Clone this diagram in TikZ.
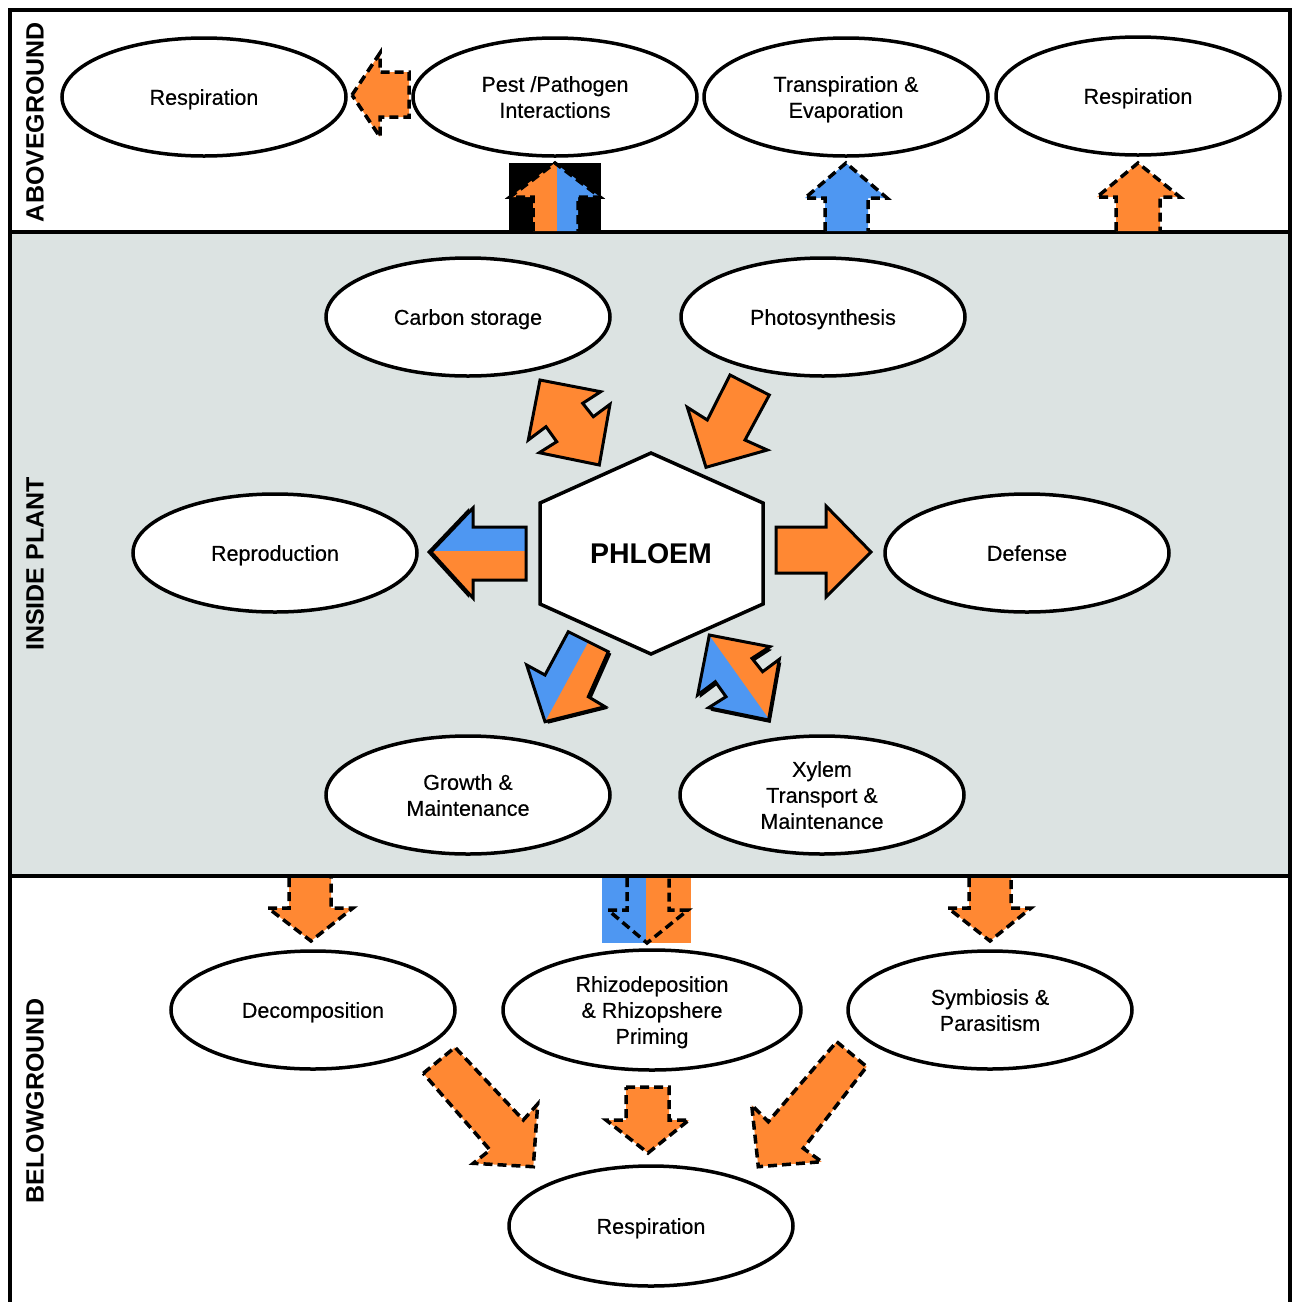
\documentclass[tikz,border=0pt]{standalone}
\usepackage{fontspec}
\setmainfont{Liberation Sans}
\usetikzlibrary{shapes.geometric}
\definecolor{org}{HTML}{FF8833}
\definecolor{blu}{HTML}{4E97F2}
\definecolor{bgray}{HTML}{DCE3E2}
\begin{document}
\begin{tikzpicture}[x=1pt,y=-1pt,
  ell/.style={draw, line width=3.5pt, ellipse, fill=white, minimum width=284pt, minimum height=118pt, inner sep=0pt, align=center, text depth=0pt, font=\fontsize{21.5}{26}\selectfont\addfontfeature{FakeBold=0.4}},
  darr/.style={draw=black, line width=3.5pt, dash pattern=on 9pt off 5pt, line join=miter},
  sarr/.style={draw=black, line width=3pt, line join=miter},
  side/.style={rotate=90, font=\bfseries\fontsize{25}{28}\selectfont},
  frameline/.style={line width=3.5pt}]
\useasboundingbox (0,0) rectangle (1298,1302);
% zones
\fill[bgray] (10,232) rectangle (1290,876);
\draw[frameline] (10,1302) -- (10,10) -- (1290,10) -- (1290,1302);
\draw[frameline] (10,232) -- (1290,232);
\draw[frameline] (10,876) -- (1290,876);
\node[side] (lab1) at (35,122) {ABOVEGROUND};
\node[side] (lab2) at (35,564) {INSIDE PLANT};
\node[side] (lab3) at (35,1101) {BELOWGROUND};

% ellipses
\node[ell] (resp1) at (204,97) {Respiration};
\node[ell] (pest) at (555,97) {Pest /Pathogen\\Interactions};
\node[ell] (trans) at (846,97) {Transpiration \&\\Evaporation};
\node[ell] (resp2) at (1138,96) {Respiration};
\node[ell] (carb) at (468,317) {Carbon storage};
\node[ell] (photo) at (823,317) {Photosynthesis};
\node[ell] (repro) at (275,553) {Reproduction};
\node[ell] (def) at (1027,553) {Defense};
\node[ell] (grow) at (468,795) {Growth \&\\Maintenance};
\node[ell] (xyl) at (822,795) {Xylem\\Transport \&\\Maintenance};
\node[ell] (decomp) at (313,1010) {Decomposition};
\node[ell, minimum width=298pt, minimum height=120pt] (rhizo) at (652,1010) {Rhizodeposition\\\& Rhizopshere\\Priming};
\node[ell] (symb) at (990,1010) {Symbiosis \&\\Parasitism};
\node[ell, minimum height=120pt] (resp3) at (651,1226) {Respiration};

% phloem hexagon
\draw[line width=3.5pt, fill=white, line join=miter] (651,453) -- (763,503) -- (763,604) -- (651,654) -- (540,604) -- (540,503) -- cycle;
\node[font=\bfseries\fontsize{28.5}{32}\selectfont] (phl) at (651,554) {PHLOEM};

% aboveground arrows
\fill[org] (352,95) -- (380,53) -- (380,72) -- (409,72) -- (409,117) -- (380,117) -- (380,137) -- cycle;
\draw[darr] (352,95) -- (380,53) -- (380,72) -- (409,72) -- (409,117) -- (380,117) -- (380,137) -- cycle;

\fill[black] (509,163) rectangle (601,231);
\begin{scope}
\clip (555,163) -- (600,197) -- (578,197) -- (578,231) -- (533,231) -- (533,197) -- (510,197) -- cycle;
\fill[org] (500,150) rectangle (557,235);
\fill[blu] (557,150) rectangle (610,235);
\end{scope}
\draw[darr] (533,231) -- (533,197) -- (510,197) -- (555,163) -- (600,197) -- (578,197) -- (578,231);

\fill[blu] (825,231) -- (825,198) -- (805,198) -- (846,163) -- (887,198) -- (868,198) -- (868,231) -- cycle;
\draw[darr] (825,231) -- (825,198) -- (805,198) -- (846,163) -- (887,198) -- (868,198) -- (868,231);

\fill[org] (1116,231) -- (1116,197) -- (1097,197) -- (1138,163) -- (1180,197) -- (1160,197) -- (1160,231) -- cycle;
\draw[darr] (1116,231) -- (1116,197) -- (1097,197) -- (1138,163) -- (1180,197) -- (1160,197) -- (1160,231);

% inside plant arrows
\draw[sarr, fill=org] (540,380) -- (600.7,391.7) -- (582.7,403.3) -- (593.3,416.7) -- (610,404.3) -- (599.3,465) -- (539.3,452.7) -- (556.7,441.7) -- (546,426.7) -- (528.3,440) -- cycle;

\draw[sarr, fill=org] (730,375) -- (769.3,395) -- (745,440) -- (767.3,450) -- (706,467.3) -- (687.3,407.3) -- (707.3,420) -- cycle;

\fill[black] (427,552) -- (469,508) -- (469,527) -- (522,527) -- (522,580) -- (469,580) -- (469,598) -- cycle;
\begin{scope}
\clip (431,552) -- (473,508) -- (473,527) -- (526,527) -- (526,580) -- (473,580) -- (473,598) -- cycle;
\fill[blu] (420,500) rectangle (530,551);
\fill[org] (420,551) rectangle (530,605);
\end{scope}
\draw[sarr] (431,552) -- (473,508) -- (473,527) -- (526,527) -- (526,580) -- (473,580) -- (473,598) -- cycle;

\draw[sarr, fill=org] (871,552) -- (826,506) -- (826,527) -- (776,527) -- (776,573) -- (826,573) -- (826,597) -- cycle;

\fill[black] (571.3,633.7) -- (611.3,653.7) -- (591.3,698.7) -- (608,708.7) -- (548,723.7) -- (529.7,667) -- (548,677) -- cycle;
\begin{scope}
\clip (568.3,631.7) -- (608.3,651.7) -- (588.3,696.7) -- (605,706.7) -- (545,721.7) -- (526.7,665) -- (545,675) -- cycle;
\fill[org] (500,600) rectangle (630,740);
\fill[blu] (610,601.7) -- (523.4,761.7) -- (460,761.7) -- (460,601.7) -- cycle;
\end{scope}
\draw[sarr] (568.3,631.7) -- (608.3,651.7) -- (588.3,696.7) -- (605,706.7) -- (545,721.7) -- (526.7,665) -- (545,675) -- cycle;

\fill[black] (711.3,638) -- (772,649.7) -- (754,661.3) -- (764.6,674.7) -- (781.3,662.3) -- (770.6,723) -- (710.6,710.7) -- (728,699.7) -- (717.3,684.7) -- (699.6,698) -- cycle;
\begin{scope}
\clip (709.3,635) -- (770,646.7) -- (752,658.3) -- (762.6,671.7) -- (779.3,659.3) -- (768.6,720) -- (708.6,707.7) -- (726,696.7) -- (715.3,681.7) -- (697.6,695) -- cycle;
\fill[blu] (690,620) rectangle (790,730);
\fill[org] (679,592.5) -- (800,762.5) -- (800,592.5) -- cycle;
\end{scope}
\draw[sarr] (709.3,635) -- (770,646.7) -- (752,658.3) -- (762.6,671.7) -- (779.3,659.3) -- (768.6,720) -- (708.6,707.7) -- (726,696.7) -- (715.3,681.7) -- (697.6,695) -- cycle;

% belowground arrows
\fill[org] (289,878) -- (289,908) -- (268,908) -- (311,941) -- (353,908) -- (331,908) -- (331,878) -- cycle;
\draw[darr] (289,878) -- (289,908) -- (268,908) -- (311,941) -- (353,908) -- (331,908) -- (331,878);

\fill[blu] (602,878) rectangle (646,943);
\fill[org] (646,878) rectangle (691,943);
\draw[darr] (627,878) -- (627,910) -- (608,910) -- (647,943) -- (688,910) -- (669,910) -- (669,878);

\fill[org] (969,878) -- (969,908) -- (948,908) -- (990,941) -- (1031,908) -- (1011,908) -- (1011,878) -- cycle;
\draw[darr] (969,878) -- (969,908) -- (948,908) -- (990,941) -- (1031,908) -- (1011,908) -- (1011,878);

\draw[darr, fill=org] (423.3,1073.3) -- (455,1047.3) -- (523.3,1120) -- (537.7,1104) -- (533.3,1166.7) -- (473.3,1163.3) -- (490,1150) -- cycle;
\draw[darr, fill=org] (626,1087) -- (669,1087) -- (669,1120) -- (689,1120) -- (648,1153) -- (606,1120) -- (626,1120) -- cycle;
\draw[darr, fill=org] (836.7,1041.7) -- (866.7,1066.7) -- (803.3,1148.3) -- (821.7,1161.7) -- (758.3,1166.7) -- (751.7,1105) -- (768.3,1121.7) -- cycle;
\end{tikzpicture}
\end{document}
